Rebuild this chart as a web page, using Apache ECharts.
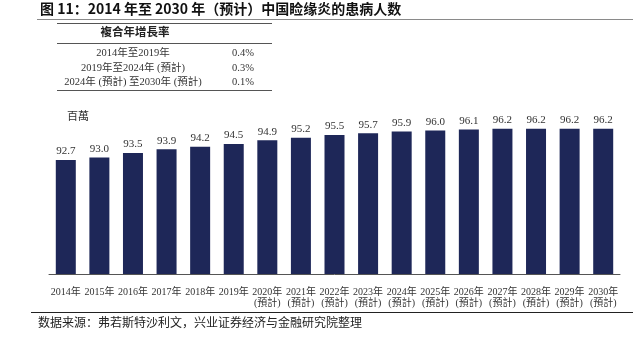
<!DOCTYPE html>
<html>
<head>
<meta charset="utf-8">
<script src="https://cdn.jsdelivr.net/npm/echarts@6/dist/echarts.min.js"></script>
<style>
  html, body { margin: 0; padding: 0; background: #fff; }
  #chart { width: 633px; height: 338px; }
</style>
</head>
<body>
<div id="chart"></div>
<script>
// Patients with blepharitis in China, millions
const years = ['2014年', '2015年', '2016年', '2017年', '2018年', '2019年', '2020年', '2021年', '2022年',
  '2023年', '2024年', '2025年', '2026年', '2027年', '2028年', '2029年', '2030年'];
const forecastFrom = '2020年';
const patients = [92.7, 93.0, 93.5, 93.9, 94.2, 94.5, 94.9, 95.2, 95.5, 95.7, 95.9, 96.0, 96.1, 96.2, 96.2, 96.2, 96.2];

// CAGR summary table
const cagrPeriods = ['2014年至2019年', '2019年至2024年 (預計)', '2024年 (預計) 至2030年 (預計)'];
const cagrValues = ['0.4%', '0.3%', '0.1%'];

const serif = '"Liberation Serif", "Noto Sans CJK TC", serif';
const cjk = '"Noto Sans CJK SC", sans-serif';

const firstForecast = years.indexOf(forecastFrom);
const axisLabels = years.map((y, i) => i >= firstForecast ? y + '\n(預計)' : y);

const chart = echarts.init(document.getElementById('chart'));

const graphics = [
  { type: 'text', left: 40, top: 2, style: { text: '图 11：2014 年至 2030 年（预计）中国睑缘炎的患病人数', font: 'bold 14px ' + cjk, fill: '#111' } },
  { type: 'line', shape: { x1: 37, y1: 19.5, x2: 633, y2: 19.5 }, style: { stroke: '#8a8a8a', lineWidth: 1 } },
  { type: 'line', shape: { x1: 57, y1: 23.5, x2: 272, y2: 23.5 }, style: { stroke: '#555', lineWidth: 1 } },
  { type: 'text', x: 135, y: 33, style: { text: '複合年增長率', font: 'bold 11.5px ' + serif, fill: '#222', align: 'center', verticalAlign: 'middle' } },
  { type: 'line', shape: { x1: 57, y1: 43.5, x2: 272, y2: 43.5 }, style: { stroke: '#555', lineWidth: 1.2 } },
  { type: 'line', shape: { x1: 57, y1: 90.5, x2: 272, y2: 90.5 }, style: { stroke: '#555', lineWidth: 1 } },
  { type: 'text', left: 67, top: 112, style: { text: '百萬', font: '11px ' + serif, fill: '#333' } },
  { type: 'line', shape: { x1: 31, y1: 312.5, x2: 633, y2: 312.5 }, style: { stroke: '#222', lineWidth: 1 } },
  { type: 'text', left: 38, top: 316, style: { text: '数据来源：弗若斯特沙利文，兴业证券经济与金融研究院整理', font: '12px ' + cjk, fill: '#222' } }
];

const rowY = [53.5, 68, 82];
cagrPeriods.forEach((p, i) => {
  graphics.push({ type: 'text', x: 133, y: rowY[i], style: { text: p, font: '10.5px ' + serif, fill: '#333', align: 'center', verticalAlign: 'middle' } });
  graphics.push({ type: 'text', x: 232, y: rowY[i], style: { text: cagrValues[i], font: '10.5px ' + serif, fill: '#333', align: 'left', verticalAlign: 'middle' } });
});

chart.setOption({
  animation: false,
  grid: { left: 49, right: 13, top: 94.6, bottom: 64 },
  xAxis: {
    type: 'category',
    data: axisLabels,
    axisTick: { show: false },
    axisLine: { lineStyle: { color: '#555', width: 1 } },
    axisLabel: { interval: 0, fontFamily: serif, fontSize: 10, lineHeight: 11, color: '#333', margin: 13 }
  },
  yAxis: { type: 'value', min: 80, max: 100, show: false, splitLine: { show: false } },
  series: [{
    type: 'bar',
    data: patients,
    barWidth: 20,
    itemStyle: { color: '#1e2758' },
    label: { show: true, position: 'top', distance: 3, fontFamily: serif, fontSize: 11, color: '#333', formatter: p => p.value.toFixed(1) }
  }],
  graphic: graphics
});
</script>
</body>
</html>
